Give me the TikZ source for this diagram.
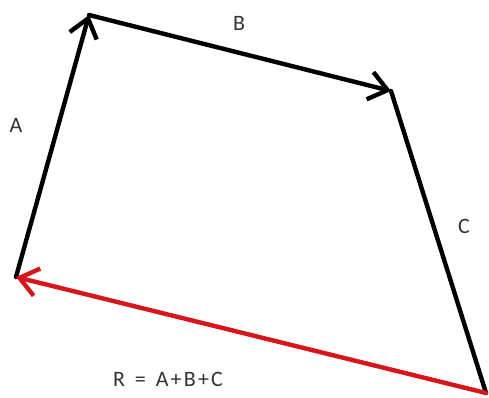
\documentclass[tikz,border=0pt]{standalone}
\usepackage{fontspec}
\setmainfont{Carlito}
\usetikzlibrary{arrows.meta}
\definecolor{vecred}{RGB}{215,22,28}
\tikzset{
  vec/.style={line width=4.4pt, line cap=round, -{Straight Barb[length=18pt,width=28pt,line width=4.4pt]}},
  lbl/.style={font=\fontsize{22}{25}\selectfont, text=black!80, inner sep=0pt}
}
\begin{document}
\begin{tikzpicture}[x=1pt,y=-1pt]
\useasboundingbox[fill=white] (0,0) rectangle (489,397);
\coordinate (p0) at (16,277);
\coordinate (p1) at (89,15);
\coordinate (p2) at (391,91);
\coordinate (p3) at (486,393);
\draw[vec] (p0) -- (p1);
\draw[vec] (p1) -- (p2);
\draw[line width=4.4pt, line cap=round] (p2) -- (p3);
\draw[vec, draw=vecred] (p3) -- (p0);
\node[lbl] (la) at (16,125) {A};
\node[lbl] (lb) at (239,23) {B};
\node[lbl] (lc) at (464,226) {C};
\node[lbl] (lr) at (168,379) {R\hspace{0.45em}=\hspace{0.45em}A{\kern0.1em}+{\kern0.1em}B{\kern0.1em}+{\kern0.1em}C};
\end{tikzpicture}
\end{document}
